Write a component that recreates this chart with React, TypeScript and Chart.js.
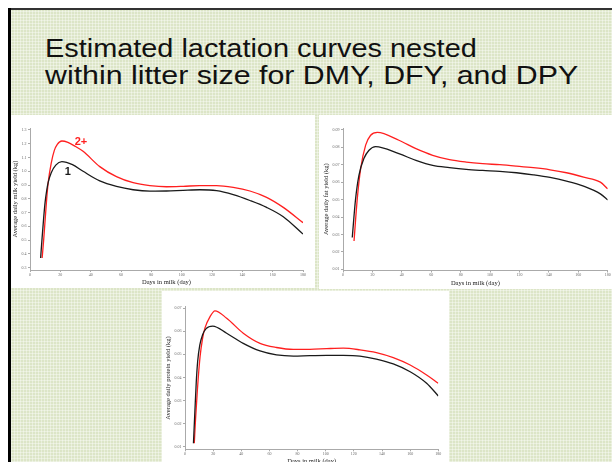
import React, { useEffect, useRef } from "react";
import { Chart, registerables } from "chart.js";
Chart.register(...registerables);

// ---------- data ----------
const xTicks = [0, 20, 40, 60, 80, 100, 120, 140, 160, 180];

const dmyTicks = [0.3, 0.4, 0.5, 0.6, 0.7, 0.8, 0.9, 1.0, 1.1, 1.2, 1.3];
const dfyTicks = [0.01, 0.02, 0.03, 0.04, 0.05, 0.06, 0.07, 0.08, 0.09];
const dpyTicks = [0.01, 0.02, 0.03, 0.04, 0.05, 0.06, 0.07];

// DMY (kg) - litter size 1
const dmyDays1 = [7, 8, 9, 10, 11, 12, 14, 17, 21, 28, 35, 46, 57, 68, 79, 90, 101, 112, 123, 134, 145, 156, 167, 180];
const dmyVals1 = [0.37, 0.52, 0.66, 0.78, 0.86, 0.92, 0.99, 1.045, 1.07, 1.048, 1.0, 0.93, 0.89, 0.866, 0.856, 0.857, 0.862, 0.866, 0.859, 0.83, 0.788, 0.738, 0.67, 0.544];
// DMY (kg) - litter size 2+
const dmyDays2 = [8, 9, 10, 11, 12, 14, 16, 18, 21, 25, 30, 35, 46, 57, 68, 79, 90, 101, 112, 123, 134, 145, 156, 167, 180];
const dmyVals2 = [0.37, 0.5, 0.65, 0.8, 0.92, 1.06, 1.15, 1.195, 1.22, 1.21, 1.18, 1.145, 1.034, 0.961, 0.917, 0.896, 0.888, 0.891, 0.896, 0.896, 0.883, 0.857, 0.811, 0.738, 0.627];

// DFY (kg)
const dfyDays1 = [6.3, 8.5, 10.8, 14.2, 17.7, 22.2, 38, 49.6, 61, 72.4, 83.8, 95, 106.6, 118, 129.4, 140.8, 152, 163.6, 175, 180];
const dfyVals1 = [0.0283, 0.05, 0.0638, 0.0735, 0.0783, 0.0804, 0.0763, 0.0725, 0.0696, 0.0683, 0.0673, 0.0667, 0.0662, 0.0654, 0.0642, 0.0627, 0.0606, 0.0577, 0.0533, 0.0498];
const dfyDays2 = [7.5, 9.7, 12, 15.4, 18.8, 23.4, 38, 49.6, 61, 72.4, 83.8, 95, 106.6, 118, 129.4, 140.8, 152, 163.6, 175, 180];
const dfyVals2 = [0.0263, 0.0504, 0.0677, 0.0812, 0.0869, 0.0885, 0.084, 0.0792, 0.0754, 0.0729, 0.0715, 0.0706, 0.07, 0.0692, 0.0683, 0.0671, 0.0654, 0.0629, 0.06, 0.0562];

// DPY (kg)
const dpyDays1 = [6, 7, 8, 9, 10.5, 12.5, 15, 19.7, 29.6, 41.4, 53.3, 65, 77, 88.8, 100.7, 112.5, 124.3, 136, 148, 160, 171.7, 180];
const dpyVals1 = [0.0115, 0.025, 0.038, 0.047, 0.054, 0.0585, 0.0612, 0.0623, 0.0592, 0.0548, 0.0515, 0.0498, 0.0493, 0.0495, 0.0496, 0.0496, 0.0493, 0.048, 0.0459, 0.0425, 0.0375, 0.032];
const dpyDays2 = [6.6, 7.5, 8.8, 10.7, 12.5, 14.2, 17.8, 21.3, 29.6, 41.4, 53.3, 65, 77, 88.8, 100.7, 112.5, 124.3, 136, 148, 160, 171.7, 180];
const dpyVals2 = [0.0115, 0.022, 0.0346, 0.049, 0.057, 0.0615, 0.0664, 0.0689, 0.0657, 0.0592, 0.0548, 0.053, 0.0522, 0.0522, 0.0525, 0.0527, 0.052, 0.0508, 0.0486, 0.0454, 0.0411, 0.0375];

// curve labels for DMY panel (data coordinates)
const curveLabelText = ["2+", "1"];
const curveLabelDay = [33.6, 25];
const curveLabelVal = [1.215, 0.997];

const RED = "#ff1f1f";
const BLACK = "#1a1a1a";

function pts(d: number[], v: number[]) {
  return d.map((x, i) => ({ x, y: v[i] }));
}

type PanelProps = {
  left: number; top: number; width: number; height: number;
  padTop: number; padRight: number; yW: number; xH: number;
  yTitlePad: number; xTitlePad: number;
  yMin: number; yMax: number; yTickVals: number[]; dec: number;
  yTitle: string;
  d1: number[]; v1: number[]; d2: number[]; v2: number[];
  labels?: boolean;
};

function Panel(p: PanelProps) {
  const ref = useRef<HTMLCanvasElement>(null);
  useEffect(() => {
    const labelPlugin = {
      id: "curveLabels",
      afterDatasetsDraw(chart: any) {
        if (!p.labels) return;
        const ctx = chart.ctx;
        const xs = chart.scales.x, ys = chart.scales.y;
        ctx.save();
        ctx.font = "bold 11px 'Liberation Sans', Arial, sans-serif";
        ctx.textAlign = "center";
        ctx.textBaseline = "middle";
        curveLabelText.forEach((t, i) => {
          ctx.fillStyle = i === 0 ? RED : BLACK;
          ctx.fillText(t, xs.getPixelForValue(curveLabelDay[i]), ys.getPixelForValue(curveLabelVal[i]));
        });
        ctx.restore();
      },
    };
    const tickFont = { size: 4, family: "'Liberation Serif', serif" };
    const titleFont = { size: 6.5, family: "'Liberation Serif', 'Times New Roman', serif", lineHeight: 1.2 };
    const chart = new Chart(ref.current!, {
      type: "line",
      data: {
        datasets: [
          { data: pts(p.d1, p.v1), borderColor: BLACK, borderWidth: 1.3, pointRadius: 0, cubicInterpolationMode: "monotone", fill: false },
          { data: pts(p.d2, p.v2), borderColor: RED, borderWidth: 1.3, pointRadius: 0, cubicInterpolationMode: "monotone", fill: false },
        ],
      },
      options: {
        responsive: false,
        animation: false,
        devicePixelRatio: 1,
        layout: { padding: { left: 0, top: p.padTop, right: p.padRight, bottom: 0 } },
        plugins: { legend: { display: false }, tooltip: { enabled: false }, title: { display: false } },
        scales: {
          x: {
            type: "linear",
            min: 0,
            max: 180,
            afterBuildTicks: (s: any) => { s.ticks = xTicks.map((v) => ({ value: v })); },
            afterFit: (s: any) => { s.height = p.xH; },
            grid: { drawOnChartArea: false, drawTicks: true, tickLength: 2, color: "#aaaaaa" },
            border: { display: true, color: "#aaaaaa", width: 1 },
            ticks: { font: tickFont, color: "#666", padding: 0.5, maxRotation: 0, autoSkip: false, callback: (v: any) => String(v) },
            title: { display: true, text: "Days in milk (day)", font: titleFont, color: "#222", padding: { top: 0, bottom: p.xTitlePad } },
          },
          y: {
            type: "linear",
            min: p.yMin,
            max: p.yMax,
            afterBuildTicks: (s: any) => { s.ticks = p.yTickVals.map((v) => ({ value: v })); },
            afterFit: (s: any) => { s.width = p.yW; },
            grid: { drawOnChartArea: false, drawTicks: true, tickLength: 2, color: "#aaaaaa" },
            border: { display: true, color: "#aaaaaa", width: 1 },
            ticks: { font: tickFont, color: "#666", padding: 1.5, autoSkip: false, callback: (v: any) => Number(v).toFixed(p.dec) },
            title: { display: true, text: p.yTitle, font: titleFont, color: "#222", padding: { top: p.yTitlePad, bottom: 0 } },
          },
        },
      } as any,
      plugins: [labelPlugin],
    });
    return () => chart.destroy();
  }, []);
  return (
    <div style={{ position: "absolute", left: p.left, top: p.top, width: p.width, height: p.height, background: "#ffffff" }}>
      <canvas ref={ref} width={p.width} height={p.height} style={{ display: "block" }} />
    </div>
  );
}

const greenBg: React.CSSProperties = {
  backgroundColor: "#dce5c7",
  backgroundImage:
    "repeating-linear-gradient(0deg, rgba(255,255,255,0.38) 0px, rgba(255,255,255,0.38) 1px, transparent 1px, transparent 3px)," +
    "repeating-linear-gradient(90deg, rgba(255,255,255,0.38) 0px, rgba(255,255,255,0.38) 1px, transparent 1px, transparent 3px)",
};

const titleLine: React.CSSProperties = {
  position: "absolute", left: 45, whiteSpace: "nowrap",
  fontFamily: "'Liberation Sans', Arial, sans-serif", fontSize: 25, lineHeight: "26.6px", color: "#111",
  transformOrigin: "0 0",
};

export default function App() {
  return (
    <div style={{ position: "fixed", left: 0, top: 0, width: 612, height: 462, overflow: "hidden", background: "#ffffff" }}>
      <div style={{ position: "absolute", left: 8, top: 9, right: 0, bottom: 0, ...greenBg }} />
      <div style={{ position: "absolute", left: 8, top: 8, width: 604, height: 1.5, background: "#333" }} />
      <div style={{ position: "absolute", left: 8, top: 8, width: 3, height: 454, background: "#000" }} />
      <div style={{ ...titleLine, top: 35, transform: "scaleX(1.155)" }}>Estimated lactation curves nested</div>
      <div style={{ ...titleLine, top: 61.6, transform: "scaleX(1.213)" }}>within litter size for DMY, DFY, and DPY</div>
      <Panel left={11} top={115} width={304} height={173} padTop={13} padRight={12} yW={19} xH={18}
        yTitlePad={0} xTitlePad={2.1} yMin={0.2833} yMax={1.3145} yTickVals={dmyTicks} dec={1}
        yTitle="Average daily milk yield (kg)" d1={dmyDays1} v1={dmyVals1} d2={dmyDays2} v2={dmyVals2} labels />
      <Panel left={319} top={115} width={293} height={174} padTop={13} padRight={4.3} yW={24} xH={18.5}
        yTitlePad={3.1} xTitlePad={2.1} yMin={0.0094} yMax={0.09103} yTickVals={dfyTicks} dec={2}
        yTitle="Average daily fat yield (kg)" d1={dfyDays1} v1={dfyVals1} d2={dfyDays2} v2={dfyVals2} />
      <Panel left={162} top={291} width={287} height={185} padTop={15.7} padRight={10.7} yW={23} xH={26.7}
        yTitlePad={2.1} xTitlePad={10.4} yMin={0.00887} yMax={0.07069} yTickVals={dpyTicks} dec={2}
        yTitle="Average daily protein yield (kg)" d1={dpyDays1} v1={dpyVals1} d2={dpyDays2} v2={dpyVals2} />
    </div>
  );
}
